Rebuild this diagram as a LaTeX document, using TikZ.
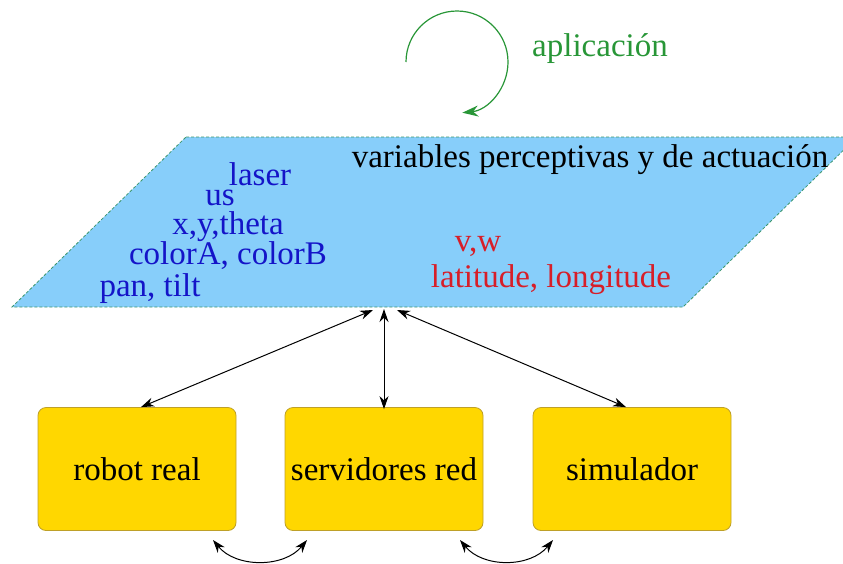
\documentclass[tikz,border=0pt]{standalone}
\usepackage{fontspec}
\setmainfont{Liberation Serif}
\usetikzlibrary{arrows.meta}
\definecolor{skyb}{RGB}{135,206,250}
\definecolor{dashc}{RGB}{60,150,110}
\definecolor{goldf}{RGB}{255,215,0}
\definecolor{goldd}{RGB}{190,160,40}
\definecolor{txtblue}{RGB}{20,20,200}
\definecolor{txtred}{RGB}{215,30,40}
\definecolor{txtgreen}{RGB}{40,150,55}
\tikzset{
  lbl/.style={font=\fontsize{33}{33}\selectfont, inner sep=0pt, anchor=base},
  box/.style={draw=goldd, fill=goldf, rounded corners=8pt, minimum width=198pt, minimum height=123pt, inner sep=0pt, font=\fontsize{33}{33}\selectfont, line width=0.8pt},
  link/.style={line width=1pt, {Stealth[length=13pt,width=9pt]}-{Stealth[length=13pt,width=9pt]}},
  loop/.style={line width=1.2pt, draw=txtgreen, -{Stealth[length=16pt,width=11pt]}}
}
\begin{document}
\begin{tikzpicture}[x=1pt,y=-1pt]
\useasboundingbox (0,0) rectangle (843,563);
\begin{scope}
\clip (0,0) rectangle (843,563);
\fill[skyb] (186,137) -- (857,137) -- (683,307) -- (12,307) -- cycle;
\draw[dashc, line width=0.8pt, dash pattern=on 3pt off 2pt] (186,137) -- (857,137) -- (683,307) -- (12,307) -- cycle;
\end{scope}
% texts in the parallelogram
\node[lbl] (vars) at (590,167) {variables perceptivas y de actuación};
\node[lbl, text=txtblue] (laser) at (260,185) {laser};
\node[lbl, text=txtblue] (us) at (220,205) {us};
\node[lbl, text=txtblue] (xyt) at (228,234) {x,y,theta};
\node[lbl, text=txtblue] (col) at (228,264) {colorA, colorB};
\node[lbl, text=txtblue] (pan) at (150,296) {pan, tilt};
\node[lbl, text=txtred] (vw) at (478,251) {v,w};
\node[lbl, text=txtred] (lat) at (551,287) {latitude, longitude};
% application loop
\node[lbl, text=txtgreen] (app) at (600,56) {aplicación};
\coordinate (loopstart) at (406,62);
\draw[loop] (loopstart) arc (180:444:51);
% boxes
\node[box] (robot) at (137,469) {robot real};
\node[box] (serv) at (384,469) {servidores red};
\node[box] (sim) at (632,469) {simulador};
% connection points under the parallelogram
\coordinate (pL) at (373,310);
\coordinate (pM) at (384,309);
\coordinate (pR) at (397,310);
\draw[link] (pL) -- ([xshift=4pt]robot.north);
\draw[link] (pM) -- ([yshift=-2pt]serv.north);
\draw[link] (pR) -- ([xshift=-6pt]sim.north);
% bottom curved links
\coordinate (b1a) at (213,540);
\coordinate (b1b) at (307,540);
\coordinate (b2a) at (460,540);
\coordinate (b2b) at (553,540);
\draw[link] (b1a) .. controls (236,568) and (284,568) .. (b1b);
\draw[link] (b2a) .. controls (483,568) and (530,568) .. (b2b);
\end{tikzpicture}
\end{document}
